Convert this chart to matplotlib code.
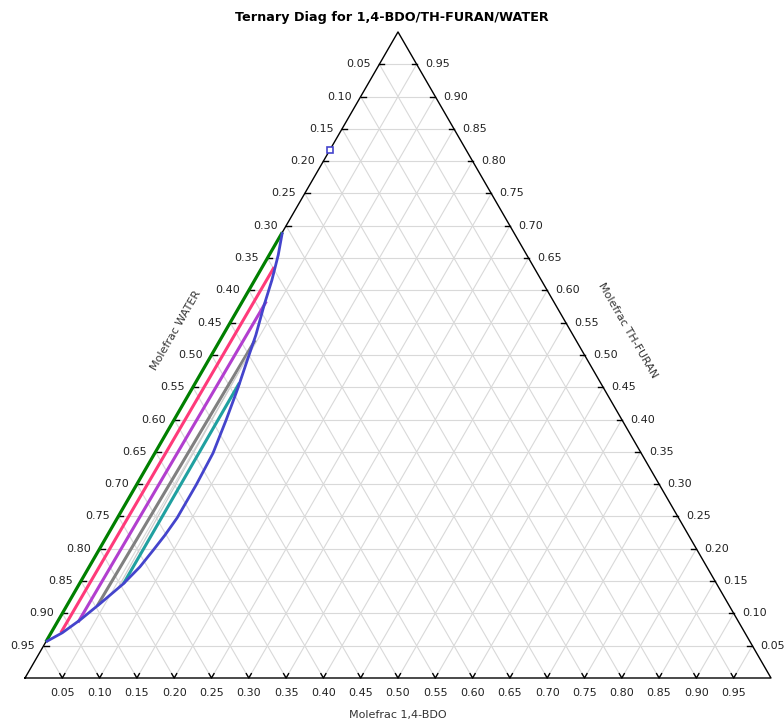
import numpy as np
import matplotlib.pyplot as plt

# WATER = 1 - BDO - THF
binodal_bdo = [0.000, 0.015, 0.029, 0.043, 0.059, 0.068, 0.073, 0.077, 0.080,
               0.080, 0.078, 0.070, 0.061, 0.052, 0.044, 0.032, 0.023, 0.012, 0.000]
binodal_thf = [0.056, 0.070, 0.090, 0.115, 0.146, 0.172, 0.198, 0.221, 0.248,
               0.299, 0.348, 0.399, 0.449, 0.492, 0.531, 0.577, 0.616, 0.655, 0.690]

# tie lines: water-rich end -> THF-rich end
tie_bdo_lo = [0.000, 0.013, 0.028, 0.041, 0.055, 0.059]
tie_thf_lo = [0.056, 0.070, 0.086, 0.112, 0.139, 0.146]
tie_bdo_hi = [0.000, 0.016, 0.032, 0.047, 0.049, 0.059]
tie_thf_hi = [0.690, 0.636, 0.583, 0.523, 0.505, 0.457]
tie_colors = ['#008000', '#ff3a7a', '#b23fcf', '#808080', '#cccccc', '#20a0a0']
tie_widths = [2.3, 2.2, 2.2, 2.2, 0.9, 2.2]

# azeotrope marker
azeo_bdo = [0.0]
azeo_thf = [0.817]

title = 'Ternary Diag for 1,4-BDO/TH-FURAN/WATER'
tick_vals = np.round(np.arange(0.05, 0.96, 0.05), 2)

S3 = np.sqrt(3) / 2


def to_xy(b, t):
    b = np.asarray(b, dtype=float)
    t = np.asarray(t, dtype=float)
    return b + t / 2, t * S3


W, H = 784, 724
fig = plt.figure(figsize=(W / 100, H / 100), dpi=100)
ax = fig.add_axes([0, 0, 1, 1])
side = 746.0
x0, y0 = 25.0, 678.0  # pixel position of the water vertex
ax.set_xlim(-x0 / side, (W - x0) / side)
ax.set_ylim(-(H - y0) / side, y0 / side)
ax.axis('off')

grid_kw = dict(color='#d9d9d9', lw=0.8, zorder=1)
for v in tick_vals:
    # constant THF
    ax.plot(*to_xy([0, 1 - v], [v, v]), **grid_kw)
    # constant BDO
    ax.plot(*to_xy([v, v], [0, 1 - v]), **grid_kw)
    # constant WATER
    ax.plot(*to_xy([1 - v, 0], [0, 1 - v]), **grid_kw)

# triangle outline
ax.plot(*to_xy([0, 1, 0, 0], [0, 0, 1, 0]), color='black', lw=1.0, zorder=3)

tl = 5 / side
lab_kw = dict(fontsize=8, color='#222222', textcoords='offset points')
for v in tick_vals:
    # left edge (water)
    lx, ly = to_xy(0, v)
    ax.plot([lx, lx + tl], [ly, ly], color='black', lw=1.0, zorder=3)
    ax.annotate(f'{1 - v:.2f}', (lx, ly), xytext=(-6, 0), ha='right', va='center', **lab_kw)
    # right edge (THF)
    rx, ry = to_xy(1 - v, v)
    ax.plot([rx, rx - tl], [ry, ry], color='black', lw=1.0, zorder=3)
    ax.annotate(f'{v:.2f}', (rx, ry), xytext=(6, 0), ha='left', va='center', **lab_kw)
    # bottom edge (BDO)
    bx, by = to_xy(v, 0)
    ax.plot([bx - tl * 0.5, bx, bx + tl * 0.5], [tl * S3, 0, tl * S3],
            color='black', lw=1.0, zorder=3)
    ax.annotate(f'{v:.2f}', (bx, by), xytext=(0, -11), ha='center', va='center', **lab_kw)

# binodal curve
ax.plot(*to_xy(binodal_bdo, binodal_thf), color='#4444cc', lw=2.0, zorder=5,
        solid_capstyle='butt')

# tie lines
for i in range(len(tie_colors)):
    ax.plot(*to_xy([tie_bdo_lo[i], tie_bdo_hi[i]], [tie_thf_lo[i], tie_thf_hi[i]]),
            color=tie_colors[i], lw=tie_widths[i], zorder=4, solid_capstyle='butt')

ax.plot(*to_xy(azeo_bdo, azeo_thf), 's', ms=5, mfc='white', mec='#4444cc', mew=1.2, zorder=6)

# axis titles
ax.text(0.5, -37 / side, 'Molefrac 1,4-BDO', fontsize=8, color='#333333',
        ha='center', va='center')
ax.text((176 - x0) / side, (y0 - 330) / side, 'Molefrac WATER', fontsize=8,
        color='#333333', rotation=60, ha='center', va='center')
ax.text((628 - x0) / side, (y0 - 330) / side, 'Molefrac TH-FURAN', fontsize=8,
        color='#333333', rotation=-60, ha='center', va='center')

fig.text(0.5, 1 - 17 / H, title, fontsize=9.2, fontweight='bold', ha='center', va='center')

fig.savefig('out.png', dpi=100)
